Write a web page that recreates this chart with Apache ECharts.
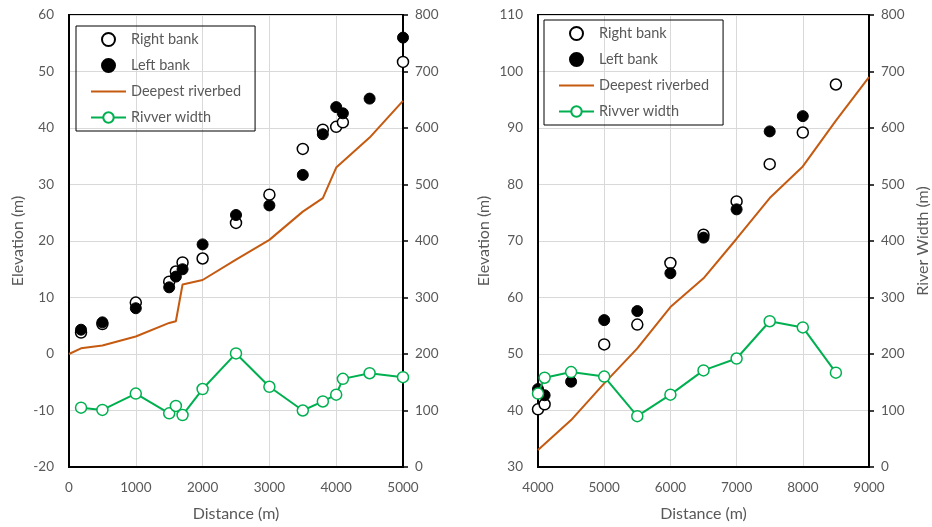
<!DOCTYPE html>
<html>
<head>
<meta charset="utf-8">
<script src="https://cdn.jsdelivr.net/npm/echarts@6/dist/echarts.min.js"></script>
<style>
  html, body { margin: 0; padding: 0; background: #fff; }
  #chart { width: 932px; height: 527px; }
</style>
</head>
<body>
<div id="chart"></div>
<script>
// ---- left panel (0 - 5000 m) ----
const upRightDist = [180, 500, 1000, 1500, 1600, 1700, 2000, 2500, 3000, 3500, 3800, 4000, 4100, 5000]
const upRightElev = [3.8, 5.3, 9.1, 12.8, 14.6, 16.2, 16.9, 23.2, 28.2, 36.3, 39.7, 40.2, 41.0, 51.7]
const upLeftDist = [180, 500, 1000, 1500, 1600, 1700, 2000, 2500, 3000, 3500, 3800, 4000, 4100, 4500, 5000]
const upLeftElev = [4.3, 5.6, 8.1, 11.8, 13.7, 15.0, 19.4, 24.6, 26.3, 31.7, 38.9, 43.7, 42.6, 45.2, 56.0]
const upBedDist = [0, 180, 500, 1000, 1500, 1600, 1700, 2000, 2500, 3000, 3500, 3800, 4000, 4500, 5000]
const upBedElev = [0, 1.0, 1.5, 3.1, 5.5, 5.8, 12.3, 13.1, 16.7, 20.2, 25.2, 27.6, 33.0, 38.3, 44.8]
const upWidthDist = [180, 500, 1000, 1500, 1600, 1700, 2000, 2500, 3000, 3500, 3800, 4000, 4100, 4500, 5000]
const upWidth = [105, 101, 130, 95, 108, 92, 138, 201, 142, 100, 116, 128, 156, 166, 159]

// ---- right panel (4000 - 9000 m) ----
const dnRightDist = [4000, 4100, 5000, 5500, 6000, 6500, 7000, 7500, 8000, 8500]
const dnRightElev = [40.2, 41.1, 51.7, 55.2, 66.1, 71.1, 77.0, 83.6, 89.2, 97.7]
const dnLeftDist = [4000, 4100, 4500, 5000, 5500, 6000, 6500, 7000, 7500, 8000]
const dnLeftElev = [43.8, 42.7, 45.1, 56.0, 57.6, 64.3, 70.6, 75.6, 89.4, 92.1]
const dnBedDist = [4000, 4500, 5000, 5500, 6000, 6500, 7000, 7500, 8000, 8500, 9000]
const dnBedElev = [33.0, 38.3, 44.8, 51.0, 58.3, 63.4, 70.4, 77.6, 83.2, 91.3, 99.0]
const dnWidthDist = [4000, 4100, 4500, 5000, 5500, 6000, 6500, 7000, 7500, 8000, 8500]
const dnWidth = [130, 158, 168, 160, 90, 128, 171, 192, 258, 247, 167]

const seriesNames = ['Right bank', 'Left bank', 'Deepest riverbed', 'Rivver width']

const zip = (xs, ys) => xs.map((x, i) => [x, ys[i]])

const FONT = 'Lato'
const TEXT = '#595959'
const GRIDLINE = '#d9d9d9'

function xAxisOf (gridIndex, min, max) {
  return {
    type: 'value',
    gridIndex: gridIndex,
    min: min,
    max: max,
    interval: 1000,
    name: 'Distance (m)',
    nameLocation: 'middle',
    nameGap: 39,
    nameTextStyle: { color: TEXT, fontSize: 16, fontFamily: FONT },
    axisLine: { onZero: false, lineStyle: { color: '#000', width: 2 } },
    axisTick: { show: false },
    axisLabel: { color: TEXT, fontSize: 13.5, fontFamily: FONT, margin: 14, formatter: v => String(v) },
    splitLine: { lineStyle: { color: GRIDLINE, width: 1 } }
  }
}

function elevAxisOf (gridIndex, min, max, gap) {
  return {
    type: 'value',
    gridIndex: gridIndex,
    position: 'left',
    min: min,
    max: max,
    interval: 10,
    name: 'Elevation (m)',
    nameLocation: 'middle',
    nameGap: gap,
    nameTextStyle: { color: TEXT, fontSize: 16, fontFamily: FONT },
    axisLine: { show: true, onZero: false, lineStyle: { color: '#000', width: 2 } },
    axisTick: { show: false },
    axisLabel: { color: TEXT, fontSize: 13.5, fontFamily: FONT, margin: 15 },
    splitLine: { lineStyle: { color: GRIDLINE, width: 1 } }
  }
}

function widthAxisOf (gridIndex, title) {
  return {
    type: 'value',
    gridIndex: gridIndex,
    position: 'right',
    min: 0,
    max: 800,
    interval: 100,
    name: title,
    nameLocation: 'middle',
    nameGap: 46,
    nameRotate: 90,
    nameTextStyle: { color: TEXT, fontSize: 16, fontFamily: FONT },
    axisLine: { show: true, onZero: false, lineStyle: { color: '#000', width: 2 } },
    axisTick: { show: true, inside: false, length: 5, lineStyle: { color: '#000', width: 1.5 } },
    axisLabel: { color: TEXT, fontSize: 13.5, fontFamily: FONT, margin: 12 },
    splitLine: { show: false }
  }
}

function panelSeries (axisIdx, rightPts, leftPts, bedPts, widthPts) {
  return [
    {
      name: 'Right bank',
      type: 'scatter',
      xAxisIndex: axisIdx,
      yAxisIndex: axisIdx * 2,
      data: rightPts,
      symbol: 'circle',
      symbolSize: 11,
      itemStyle: { color: '#fff', borderColor: '#000', borderWidth: 1.5, opacity: 1 }
    },
    {
      name: 'Left bank',
      type: 'scatter',
      xAxisIndex: axisIdx,
      yAxisIndex: axisIdx * 2,
      data: leftPts,
      symbol: 'circle',
      symbolSize: 11,
      itemStyle: { color: '#000', borderColor: '#000', borderWidth: 1, opacity: 1 }
    },
    {
      name: 'Deepest riverbed',
      type: 'line',
      xAxisIndex: axisIdx,
      yAxisIndex: axisIdx * 2,
      data: bedPts,
      symbol: 'none',
      showSymbol: false,
      lineStyle: { color: '#c55a11', width: 2 },
      itemStyle: { color: '#c55a11' }
    },
    {
      name: 'Rivver width',
      type: 'line',
      xAxisIndex: axisIdx,
      yAxisIndex: axisIdx * 2 + 1,
      data: widthPts,
      symbol: 'circle',
      symbolSize: 11,
      showSymbol: true,
      lineStyle: { color: '#00b050', width: 2 },
      itemStyle: { color: '#fff', borderColor: '#00b050', borderWidth: 1.5, opacity: 1 }
    }
  ]
}

function legendOf (left, top) {
  return {
    data: [
      seriesNames[0],
      seriesNames[1],
      // line only, no marker in the key
      { name: seriesNames[2], itemStyle: { color: 'rgba(0,0,0,0)', borderColor: 'rgba(0,0,0,0)', borderWidth: 0 } },
      seriesNames[3]
    ],
    orient: 'vertical',
    left: left,
    top: top,
    itemWidth: 35,
    itemHeight: 13,
    itemGap: 11,
    padding: [6, 14, 6, 14],
    borderColor: '#000',
    borderWidth: 1,
    selectedMode: false,
    textStyle: { color: TEXT, fontSize: 14.5, fontFamily: FONT }
  }
}

const chart = echarts.init(document.getElementById('chart'), null, { renderer: 'canvas' })

const option = {
  animation: false,
  backgroundColor: '#fff',
  grid: [
    { left: 69, right: 529, top: 15, bottom: 60, show: true, borderColor: '#000', borderWidth: 2 },
    { left: 538, right: 62, top: 15, bottom: 60, show: true, borderColor: '#000', borderWidth: 2 }
  ],
  legend: [legendOf(76, 26), legendOf(544, 20)],
  xAxis: [xAxisOf(0, 0, 5000), xAxisOf(1, 4000, 9000)],
  yAxis: [
    elevAxisOf(0, -20, 60, 43),
    widthAxisOf(0, ''),
    elevAxisOf(1, 30, 110, 46),
    widthAxisOf(1, 'River Width (m)')
  ],
  series: [
    ...panelSeries(0, zip(upRightDist, upRightElev), zip(upLeftDist, upLeftElev),
      zip(upBedDist, upBedElev), zip(upWidthDist, upWidth)),
    ...panelSeries(1, zip(dnRightDist, dnRightElev), zip(dnLeftDist, dnLeftElev),
      zip(dnBedDist, dnBedElev), zip(dnWidthDist, dnWidth))
  ]
}

chart.setOption(option)
</script>
</body>
</html>
